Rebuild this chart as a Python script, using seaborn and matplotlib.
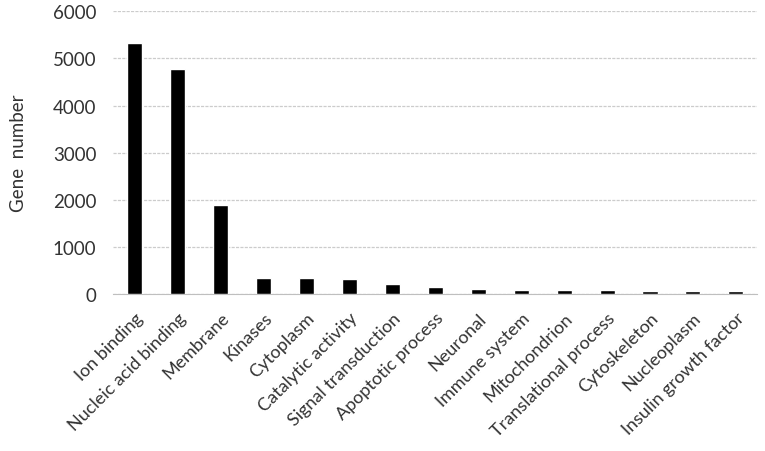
import matplotlib
matplotlib.use("Agg")
import matplotlib.pyplot as plt
import seaborn as sns
import pandas as pd

# Gene counts per functional category
categories = ['Ion binding', 'Nucleic acid binding', 'Membrane', 'Kinases', 'Cytoplasm',
              'Catalytic activity', 'Signal transduction', 'Apoptotic process', 'Neuronal',
              'Immune system', 'Mitochondrion', 'Translational process', 'Cytoskeleton',
              'Nucleoplasm', 'Insulin growth factor']
gene_counts = [5330, 4770, 1900, 350, 350, 320, 215, 145, 110, 85, 85, 80, 65, 65, 60]
y_ticks = [0, 1000, 2000, 3000, 4000, 5000, 6000]


def main():
    df = pd.DataFrame({'category': categories, 'genes': gene_counts})

    sns.set_style('white')
    plt.rcParams['font.family'] = ['Lato', 'DejaVu Sans']

    fig = plt.figure(figsize=(7.65, 4.52), dpi=100)
    ax = fig.add_axes([0.148, 0.347, 0.842, 0.626])

    sns.barplot(data=df, x='category', y='genes', color='black', width=0.35,
                saturation=1, ax=ax, zorder=3)

    ax.set_ylim(0, 6000)
    ax.set_xlim(-0.5, len(categories) - 0.5)
    ax.set_yticks(y_ticks)
    ax.set_yticklabels([str(t) for t in y_ticks], fontsize=13.5, color='#333333')
    # light, finely dashed gridlines like the original
    ax.yaxis.grid(True, color='#cccccc', linewidth=0.9, linestyle=(0, (2.5, 1)), zorder=0)
    ax.set_axisbelow(True)

    for side in ['top', 'right', 'left']:
        ax.spines[side].set_visible(False)
    ax.spines['bottom'].set_color('#bfbfbf')
    ax.spines['bottom'].set_linestyle((0, (2.5, 1)))
    ax.tick_params(axis='y', length=0, pad=12)
    ax.tick_params(axis='x', length=0, pad=11)

    ax.set_xticks(range(len(categories)))
    ax.set_xticklabels(categories, rotation=45, ha='right', rotation_mode='anchor',
                       fontsize=13, color='#333333')
    ax.set_xlabel('')
    ax.set_ylabel('Gene  number', fontsize=13.5, color='#333333', labelpad=19)

    fig.savefig('out.png', dpi=100)
    plt.close(fig)


if __name__ == "__main__":
    main()
